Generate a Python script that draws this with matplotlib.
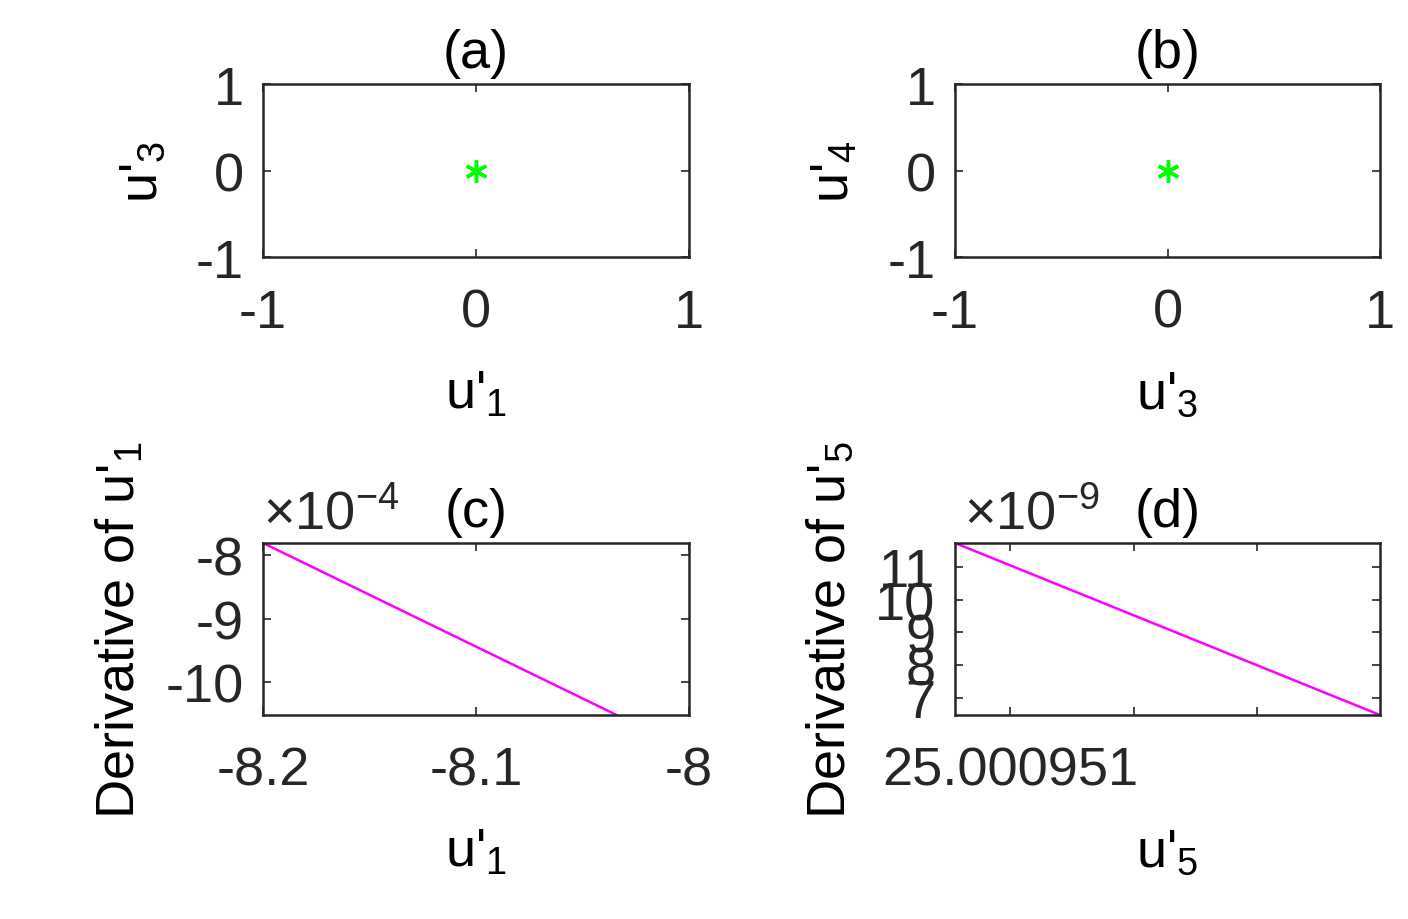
import matplotlib
matplotlib.use("Agg")
import matplotlib.pyplot as plt
from matplotlib.ticker import FuncFormatter

plt.rcParams['font.family'] = ['Liberation Sans', 'DejaVu Sans']
plt.rcParams['mathtext.fontset'] = 'custom'
plt.rcParams['mathtext.rm'] = 'Liberation Sans'
plt.rcParams['mathtext.it'] = 'Liberation Sans'
plt.rcParams['axes.unicode_minus'] = False

pt_a = ([0.0], [0.0])
pt_b = ([0.0], [0.0])
c_x = [-8.2, -8.034]
c_y = [-7.81e-4, -10.52e-4]
d_x = [0.0, 1.0]
d_y = [11.73e-9, 6.48e-9]
d_xticks = [0.13, 0.42, 0.71]
d_xticklabels = ['25.000951', '', '']

fig = plt.figure(figsize=(14.08, 9.2), dpi=100)
W, H = 1408, 920
def ax_at(l, r, t, b):
    return fig.add_axes([l / W, 1 - b / H, (r - l) / W, (b - t) / H])

fs = 39
tc = '#262626'
def style(ax):
    ax.tick_params(direction='in', labelsize=fs, colors=tc, length=6, width=1.2, top=True, right=True)
    ax.tick_params(axis='x', pad=22)
    ax.tick_params(axis='y', pad=14)
    for s in ax.spines.values():
        s.set_linewidth(1.8); s.set_color(tc)

def lab(ax, sub, pre="u'", x=True, pad=18):
    t = pre + "$_{\\mathregular{" + sub + "}}$"
    t = pre + r"$_{_{\;}}$"[:0] + "$_{" + sub + "}$"
    if x:
        ax.set_xlabel(t, fontsize=fs, labelpad=pad)
    else:
        ax.set_ylabel(t, fontsize=fs, labelpad=pad)

plt.rcParams['mathtext.default'] = 'rm'
star = dict(marker=(6, 2, 0), color='#00ff00', markersize=16, markeredgewidth=2.5, linestyle='none')

a = ax_at(263, 689, 85, 258)
a.plot(*pt_a, **star)
a.set_xlim(-1, 1); a.set_ylim(-1, 1)
a.set_xticks([-1, 0, 1]); a.set_yticks([-1, 0, 1])
style(a)
a.set_title('(a)', fontsize=fs, pad=12)
lab(a, '1', pad=22)
lab(a, '3', x=False, pad=20)

b = ax_at(955, 1380, 85, 258)
b.plot(*pt_b, **star)
b.set_xlim(-1, 1); b.set_ylim(-1, 1)
b.set_xticks([-1, 0, 1]); b.set_yticks([-1, 0, 1])
style(b)
b.set_title('(b)', fontsize=fs, pad=12)
lab(b, '3', pad=22)
lab(b, '4', x=False, pad=20)

c = ax_at(263, 689, 544, 716)
c.plot(c_x, c_y, color='#ff00ff', lw=1.8)
c.set_xlim(-8.2, -8.0); c.set_ylim(-10.52e-4, -7.81e-4)
c.set_xticks([-8.2, -8.1, -8.0]); c.set_yticks([-10e-4, -9e-4, -8e-4])
c.xaxis.set_major_formatter(FuncFormatter(lambda v, p: f"{v:g}"))
c.yaxis.set_major_formatter(FuncFormatter(lambda v, p: f"{round(v*1e4):d}"))
style(c)
c.set_title('(c)', fontsize=fs, pad=12)
c.text(0.0, 1.02, r"$\times$10$^{-4}$", transform=c.transAxes, fontsize=fs, color=tc, va='bottom')
lab(c, '1', pad=22)
lab(c, '1', pre="Derivative of u'", x=False, pad=14)

d = ax_at(955, 1380, 544, 716)
d.plot(d_x, d_y, color='#ff00ff', lw=1.8)
d.set_xlim(0, 1); d.set_ylim(6.48e-9, 11.73e-9)
d.set_xticks(d_xticks); d.set_xticklabels(d_xticklabels)
d.set_yticks([7e-9, 8e-9, 9e-9, 10e-9, 11e-9])
d.yaxis.set_major_formatter(FuncFormatter(lambda v, p: f"{round(v*1e9):d}"))
style(d)
d.set_title('(d)', fontsize=fs, pad=12)
d.text(0.02, 1.02, r"$\times$10$^{-9}$", transform=d.transAxes, fontsize=fs, color=tc, va='bottom')
lab(d, '5', pad=22)
lab(d, '5', pre="Derivative of u'", x=False, pad=14)

fig.savefig('out.png', dpi=100)
